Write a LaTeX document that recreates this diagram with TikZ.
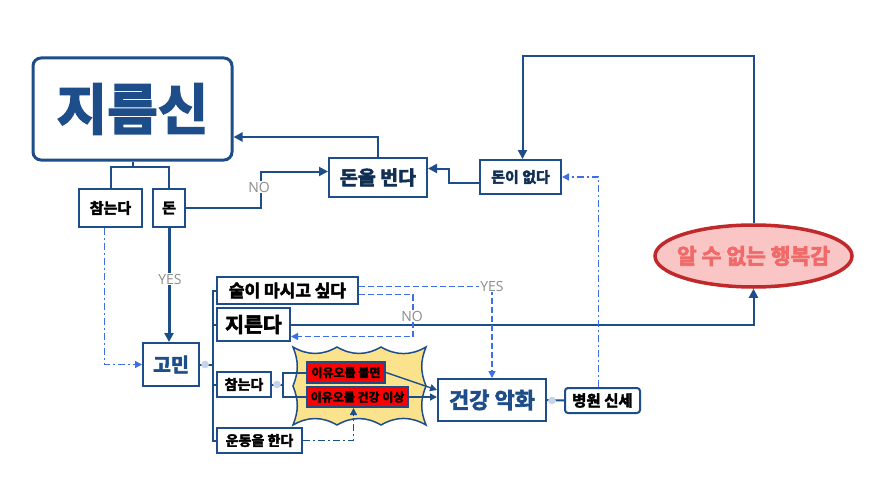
\documentclass[tikz,border=0pt]{standalone}
\usepackage{fontspec}
\newfontfamily\kr[BoldFont={Noto Sans CJK KR Bold},BoldFeatures={FakeBold=3}]{Noto Sans CJK KR}
\newfontfamily\lab{Open Sans}
\usetikzlibrary{arrows.meta,shapes.geometric}
\definecolor{navy}{HTML}{1D4E89}
\definecolor{bblue}{HTML}{3D6EE6}
\definecolor{hfill}{HTML}{F9C5C5}
\definecolor{hdraw}{HTML}{C0282A}
\definecolor{htext}{HTML}{F06A6A}
\definecolor{yfill}{HTML}{FBE38E}
\definecolor{lgray}{HTML}{8C8C8C}
\definecolor{dotc}{HTML}{C5D3EC}
\tikzset{
  box/.style={draw=navy,line width=2pt,fill=white,inner sep=0pt,text=black,font=\kr\bfseries},
  redbox/.style={draw=navy,line width=2pt,fill=red,inner sep=0pt,text=black,font=\kr\bfseries\fontsize{12}{13}\selectfont},
  conn/.style={draw=navy,line width=2pt},
  arr/.style={draw=navy,line width=2pt,-{Triangle[length=9pt,width=9pt]}},
  thinarr/.style={draw=navy,line width=1.4pt,-{Triangle[length=7pt,width=7pt]}},
  barr/.style={draw=bblue,line width=1.5pt,-{Triangle[length=7pt,width=7pt]}},
  ldash/.style={dash pattern=on 6pt off 3pt},
  ldashdot/.style={dash pattern=on 7pt off 3pt on 2pt off 3pt},
  lbl/.style={text=lgray,font=\lab\fontsize{14}{15}\selectfont,fill=white,inner sep=1pt},
  dot/.style={circle,draw=dotc!80!navy!60,fill=dotc,minimum size=7pt,inner sep=0pt,line width=0.6pt},
}
\begin{document}
\begin{tikzpicture}[x=1pt,y=-1pt]
\useasboundingbox (0,0) rectangle (875,495);
\fill[white] (0,0) rectangle (875,495);

% nodes
\node[box,line width=3pt,rounded corners=8pt,minimum width=199pt,minimum height=102pt,text=navy,font=\kr\bfseries\fontsize{55}{60}\selectfont] (main) at (132.5,109) {지름신};
\node[box,minimum width=63pt,minimum height=38pt,font=\kr\bfseries\fontsize{15}{17}\selectfont] (cham1) at (110.5,208) {참는다};
\node[box,minimum width=32pt,minimum height=38pt,font=\kr\bfseries\fontsize{15}{17}\selectfont] (don) at (169,208) {돈};
\node[box,minimum width=98pt,minimum height=39pt,text=navy!60!black,font=\kr\bfseries\fontsize{19.5}{21}\selectfont] (earn) at (378,177.5) {돈을 번다};
\node[box,minimum width=81pt,minimum height=34pt,text=navy!60!black,font=\kr\bfseries\fontsize{15}{17}\selectfont] (lack) at (520.5,177) {돈이 없다};
\node[ellipse,draw=hdraw,line width=3.5pt,fill=hfill,minimum width=197pt,minimum height=62pt,inner sep=0pt] (happy) at (753.5,256) {};
\node[text=htext,font=\kr\bfseries\fontsize{21.5}{23}\selectfont,inner sep=0pt] (happyt) at (happy.center) {알 수 없는 행복감};
\node[box,minimum width=56pt,minimum height=43pt,text=navy,font=\kr\bfseries\fontsize{19.5}{21}\selectfont] (gomin) at (171,364.5) {고민};
\node[box,minimum width=141pt,minimum height=27pt,font=\kr\bfseries\fontsize{17}{18}\selectfont] (drink) at (287.5,290.5) {술이 마시고 싶다};
\node[box,minimum width=73pt,minimum height=33pt,font=\kr\bfseries\fontsize{20.5}{22}\selectfont] (buy) at (253.5,324.5) {지른다};
\node[box,minimum width=54pt,minimum height=25pt,font=\kr\bfseries\fontsize{14}{16}\selectfont] (cham2) at (244,384.5) {참는다};
\node[box,minimum width=85pt,minimum height=25pt,font=\kr\bfseries\fontsize{14}{15}\selectfont] (exer) at (259.5,440.5) {운동을 한다};

% cloud
\draw[draw=navy,line width=1.5pt,fill=yfill] (293,347) to[bend right=30] (337,347) to[bend right=30] (381,347) to[bend right=30] (426,347)
  to[bend right=22] (426,386) to[bend right=22] (426,425)
  to[bend right=30] (381,425) to[bend right=30] (337,425) to[bend right=30] (293,425)
  to[bend right=22] (293,386) to[bend right=22] cycle;

\node[redbox,minimum width=78pt,minimum height=21pt] (red1) at (346,372.5) {이유오를 불면};
\node[redbox,minimum width=101pt,minimum height=20pt] (red2) at (357.5,397) {이유오를 건강 이상};
\node[box,minimum width=108pt,minimum height=42pt,text=navy,font=\kr\bfseries\fontsize{22}{24}\selectfont] (health) at (492,400) {건강 악화};
\node[box,rounded corners=3pt,minimum width=75pt,minimum height=25pt,font=\kr\bfseries\fontsize{15.5}{17}\selectfont] (hosp) at (602.5,400.5) {병원 신세};

% tree under main
\coordinate (tj) at (132.5,167);
\draw[conn] (main) -- (tj);
\draw[conn] (cham1.north) |- (tj) -| (don.north);

% 돈 -> 돈을 번다 (NO)
\draw[arr] (don.east) -- ++(75,0) |- ([yshift=6pt]earn.west);
\node[lbl] (no1) at (259,187) {NO};

% 돈을 번다 -> 지름신
\draw[arr] (earn.north) |- ([yshift=-28pt]main.east);

% 돈이 없다 -> 돈을 번다
\draw[arr] ([yshift=-6pt]lack.west) -- ++(-30,0) |- ([yshift=9pt]earn.east);

% 행복감 loop -> 돈이 없다
\draw[arr] (happy.north) -- ++(0,-167) -| ([xshift=2pt]lack.north);

% 지른다 -> 행복감
\draw[arr] (buy.east) -| (happy.south);

% 병원 신세 -> 돈이 없다
\draw[barr,ldashdot] ([xshift=-4pt]hosp.north) |- (lack.east);

% 돈 -> 고민 (YES)
\draw[arr,line width=3pt] (don.south) -- (don.south |- gomin.north);
\node[lbl] (yes1) at (170,279) {YES};

% 참는다 -> 고민
\draw[barr,ldashdot] ([xshift=-6pt]cham1.south) |- (gomin.west);

% bus from 고민
\coordinate (bus) at (213,364.5);
\draw[conn] (gomin.east) -- (bus);
\draw[conn] (drink.west) -| (bus);
\draw[conn] (buy.west) -| (bus);
\draw[conn] (cham2.west) -| (bus);
\draw[conn] (exer.west) -| (bus);
\node[dot] (d1) at (205,364.5) {};

% 참는다 -> red boxes bracket
\coordinate (br) at (283,384.5);
\draw[conn] (cham2.east) -- (br);
\draw[conn] (red1.west) -| (br);
\draw[conn] (red2.west) -| (br);
\node[dot] (d2) at (277,384.5) {};

% red -> 건강 악화
\draw[thinarr] (red1.east) -- ([yshift=10pt]health.west);
\draw[thinarr] (red2.east) -- (health.west |- red2.east);

% 운동 -> red2
\draw[thinarr,ldashdot] (exer.east) -| ([xshift=-4pt]red2.south);

% 술 YES / NO
\draw[barr,ldash] ([yshift=4pt]drink.east) -| (health.north);
\node[lbl] (yes2) at (492,286) {YES};
\draw[barr,ldash] ([yshift=-4pt]drink.east) -- ++(54,0) |- ([yshift=-12pt]buy.east);
\node[lbl] (no2) at (412,316) {NO};

% 건강 악화 -> 병원 신세
\draw[conn] (health.east) -- (hosp.west);
\node[dot] (d3) at (552,400.5) {};
\end{tikzpicture}
\end{document}
